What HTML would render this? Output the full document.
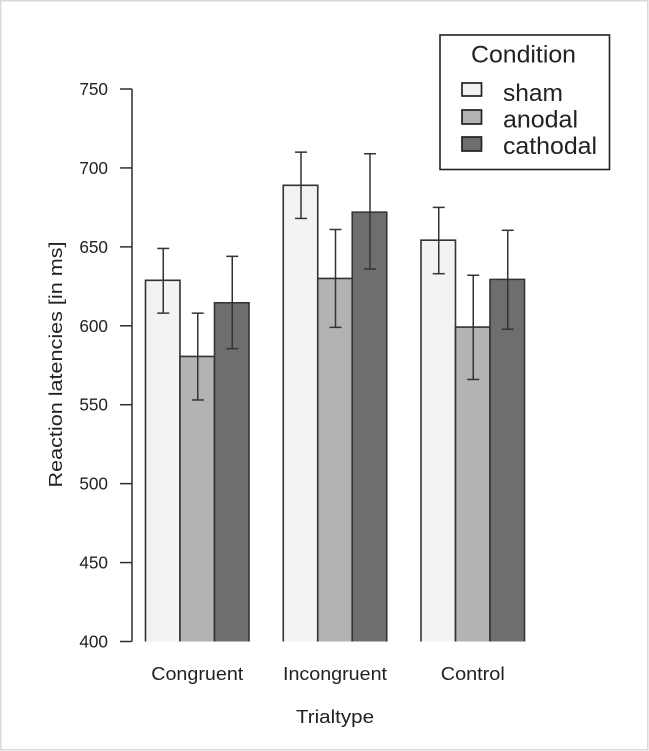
<!DOCTYPE html>
<html>
<head>
<meta charset="utf-8">
<style>
html,body{margin:0;padding:0;background:#fff;}
svg{display:block;filter:blur(0.35px);}
text{font-family:"Liberation Sans",sans-serif;fill:#222;}
</style>
</head>
<body>
<svg id="chart" xmlns="http://www.w3.org/2000/svg" width="649" height="751" viewBox="0 0 649 751">
<rect x="0.75" y="0.75" width="647" height="749" fill="#fff" stroke="#d9d9d9" stroke-width="1.5"/>
<text transform="translate(62,364.5) rotate(-90)" text-anchor="middle" font-size="18.5" textLength="246" lengthAdjust="spacingAndGlyphs">Reaction latencies [in ms]</text>
<text x="335" y="723" text-anchor="middle" font-size="18" textLength="78" lengthAdjust="spacingAndGlyphs">Trialtype</text>
<g id="plot"></g>
<g>
<rect x="440" y="35" width="169.5" height="134.5" fill="#fff" stroke="#222" stroke-width="1.6"/>
<text x="471" y="62.5" font-size="24.5" textLength="105" lengthAdjust="spacingAndGlyphs">Condition</text>
<g>
<rect x="462" y="83" width="19.5" height="13" fill="#f2f2f2" stroke="#222" stroke-width="1.7"/>
<text x="503" y="101" font-size="24" textLength="60" lengthAdjust="spacingAndGlyphs">sham</text>
</g>
<g>
<rect x="462" y="110" width="19.5" height="14" fill="#b3b3b3" stroke="#222" stroke-width="1.7"/>
<text x="503" y="127.5" font-size="24" textLength="75" lengthAdjust="spacingAndGlyphs">anodal</text>
</g>
<g>
<rect x="462" y="137" width="19.5" height="14" fill="#6e6e6e" stroke="#222" stroke-width="1.7"/>
<text x="503" y="154" font-size="24" textLength="94" lengthAdjust="spacingAndGlyphs">cathodal</text>
</g>
</g>
</svg>
<script>
const categories = ['Congruent', 'Incongruent', 'Control'];
const categoryLabelWidths = [92, 104, 64];
const conditions = ['sham', 'anodal', 'cathodal'];
const yTicks = [400, 450, 500, 550, 600, 650, 700, 750];
const shamMeans = [628.8, 689, 654.2];
const shamUpper = [649, 710, 675];
const shamLower = [608, 668, 633];
const anodalMeans = [580.6, 630, 599.2];
const anodalUpper = [608, 661, 632];
const anodalLower = [553, 599, 566];
const cathodalMeans = [614.6, 672, 629.4];
const cathodalUpper = [644, 709, 660.5];
const cathodalLower = [585.5, 636, 597.8];

const meansBySeries = [shamMeans, anodalMeans, cathodalMeans];
const upperBySeries = [shamUpper, anodalUpper, cathodalUpper];
const lowerBySeries = [shamLower, anodalLower, cathodalLower];
const seriesFills = ['#f3f3f3', '#b3b3b3', '#6e6e6e'];

const plot = document.getElementById('plot');
const NS = 'http://www.w3.org/2000/svg';
function yScale(v) { return 641.5 - (v - 400) * (552.5 / 350); }
function groupX(i) { return 145.5 + i * 137.75; }
const barW = 34.5;
function barX(i, s) { return groupX(i) + s * barW; }
function make(tag, attrs) {
  const el = document.createElementNS(NS, tag);
  for (const k in attrs) el.setAttribute(k, attrs[k]);
  plot.appendChild(el);
  return el;
}
function vLine(x, y1, y2, color, w) {
  return make('line', { x1: x, x2: x, y1: y1, y2: y2, stroke: color, 'stroke-width': w });
}
function hLine(x1, x2, y, color, w) {
  return make('line', { x1: x1, x2: x2, y1: y, y2: y, stroke: color, 'stroke-width': w });
}

// y axis
const axisLine = vLine(132, yScale(yTicks[0]), yScale(yTicks[yTicks.length - 1]), '#2e2e2e', 1.5);


yTicks.forEach(function (t) {
  const tick = hLine(120, 132, yScale(t), '#2e2e2e', 1.5);
  
  
  const lab = make('text', { x: 108, y: yScale(t) + 6, 'text-anchor': 'end', 'font-size': 17.2 });
  lab.textContent = t;
  
  
});

// bars
categories.forEach(function (cat, i) {
  conditions.forEach(function (cond, s) {
    const x = barX(i, s);
    const top = yScale(meansBySeries[s][i]);
    const base = yScale(400);
    const bar = make('rect', { x: x, y: top, width: barW, height: base - top, fill: seriesFills[s], stroke: 'none' });
    
    
    const outline = make('path', {
      d: 'M' + x + ' ' + base + 'V' + top + 'H' + (x + barW) + 'V' + base,
      fill: 'none', stroke: '#333', 'stroke-width': 1.6
    });
    
    
  });
  const lab = make('text', {
    x: groupX(i) + barW * 1.5, y: 680, 'text-anchor': 'middle', 'font-size': 18,
    textLength: categoryLabelWidths[i], lengthAdjust: 'spacingAndGlyphs'
  });
  lab.textContent = cat;
  
  
});

// error bars
categories.forEach(function (cat, i) {
  conditions.forEach(function (cond, s) {
    const cx = barX(i, s) + barW / 2 + 0.5;
    const yu = yScale(upperBySeries[s][i]);
    const yl = yScale(lowerBySeries[s][i]);
    const stem = vLine(cx, yu, yl, '#333', 1.5);
    
    
    const capU = hLine(cx - 6, cx + 6, yu, '#333', 1.5);
    
    
    const capL = hLine(cx - 6, cx + 6, yl, '#333', 1.5);
    
    
  });
});
</script>
</body>
</html>
